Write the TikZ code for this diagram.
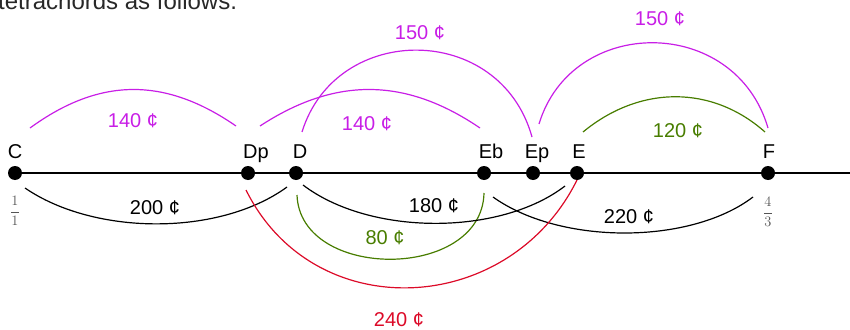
\documentclass[tikz,border=0pt]{standalone}
\usepackage{fontspec}
\setmainfont{Liberation Sans}
\usetikzlibrary{calc}
\definecolor{mag}{RGB}{200,30,230}
\definecolor{grn}{RGB}{72,125,0}
\definecolor{redc}{RGB}{220,10,40}
\definecolor{ratiogray}{RGB}{85,85,85}
\definecolor{toptext}{RGB}{40,40,40}
\begin{document}
\begin{tikzpicture}[x=1pt,y=-1pt,
  dot/.style={circle,fill=black,inner sep=0pt,minimum size=14pt},
  pname/.style={anchor=base,inner sep=0pt,font=\fontsize{20}{24}\selectfont},
  cents/.style={anchor=base,inner sep=0pt,font=\fontsize{20}{24}\selectfont},
  ratio/.style={text=ratiogray,inner sep=0pt,font=\fontsize{13.5}{16}\selectfont},
  arcline/.style={line width=1.2pt}]
\useasboundingbox (0,0) rectangle (850,329);
\clip (0,0) rectangle (850,329);
% cut-off caption
\node[anchor=base west,inner sep=0pt,text=toptext,font=\fontsize{24}{28}\selectfont] (cap) at (-2,10) {tetrachords as follows.};
% axis
\coordinate (xend) at (850,173);
\coordinate (xstart) at (15,173);
\draw[line width=1.3pt] (xstart) -- (xend);
% points
\node[dot] (C)  at (15,173) {};
\node[dot] (Dp) at (248,173) {};
\node[dot] (D)  at (296,173) {};
\node[dot] (Eb) at (484,173) {};
\node[dot] (Ep) at (533,173) {};
\node[dot] (E)  at (577,173) {};
\node[dot] (F)  at (768,173) {};
% point names
\node[pname] (nC)  at (15,158)  {C};
\node[pname] (nDp) at (256,158) {Dp};
\node[pname] (nD)  at (300,158) {D};
\node[pname] (nEb) at (491,158) {Eb};
\node[pname] (nEp) at (537,158) {Ep};
\node[pname] (nE)  at (579,158) {E};
\node[pname] (nF)  at (769,158) {F};
% ratios
\node[ratio] (r1) at (15,211) {$\displaystyle\frac{1}{1}$};
\node[ratio] (r2) at (768,212) {$\displaystyle\frac{4}{3}$};
% magenta arcs
\draw[arcline,mag] ($(C)+(15,-45)$) .. controls (100,77) and (165,77) .. ($(Dp)+(-12,-47)$);
\draw[arcline,mag] ($(Dp)+(12,-47)$) .. controls (335,77) and (405,77) .. ($(Eb)+(-4,-45)$);
\draw[arcline,mag] ($(D)+(6,-41)$) .. controls (336,22) and (500,22) .. ($(Ep)+(-1,-36)$);
\draw[arcline,mag] ($(Ep)+(6,-49)$) .. controls (572,15) and (735,15) .. ($(F)+(0,-45)$);
% green arcs
\draw[arcline,grn] ($(E)+(6,-41)$) .. controls (640,85) and (712,85) .. ($(F)+(-3,-41)$);
\draw[arcline,grn] ($(D)+(1,22)$) .. controls (300,281) and (482,281) .. ($(Eb)+(0,20)$);
% black arcs
\draw[arcline,black] ($(C)+(10,15)$) .. controls (95,236) and (220,236) .. ($(D)+(-9,14)$);
\draw[arcline,black] ($(D)+(7,12)$) .. controls (370,236) and (500,236) .. ($(E)+(-12,13)$);
\draw[arcline,black] ($(Eb)+(9,24)$) .. controls (560,245) and (690,245) .. ($(F)+(-15,24)$);
% red arc
\draw[arcline,redc] ($(Dp)+(-2,17)$) .. controls (314,327) and (509,317) .. ($(E)+(0,7)$);
% cent labels
\node[cents,text=mag] (c1) at (133,127) {140 ¢};
\node[cents,text=mag] (c2) at (367,130) {140 ¢};
\node[cents,text=mag] (c3) at (420,40)  {150 ¢};
\node[cents,text=mag] (c4) at (660,26)  {150 ¢};
\node[cents,text=grn] (c5) at (678,137) {120 ¢};
\node[cents,text=grn] (c6) at (385,244) {80 ¢};
\node[cents] (c7) at (155,214) {200 ¢};
\node[cents] (c8) at (434,212) {180 ¢};
\node[cents] (c9) at (629,223) {220 ¢};
\node[cents,text=redc] (c10) at (399,326) {240 ¢};
\end{tikzpicture}
\end{document}
